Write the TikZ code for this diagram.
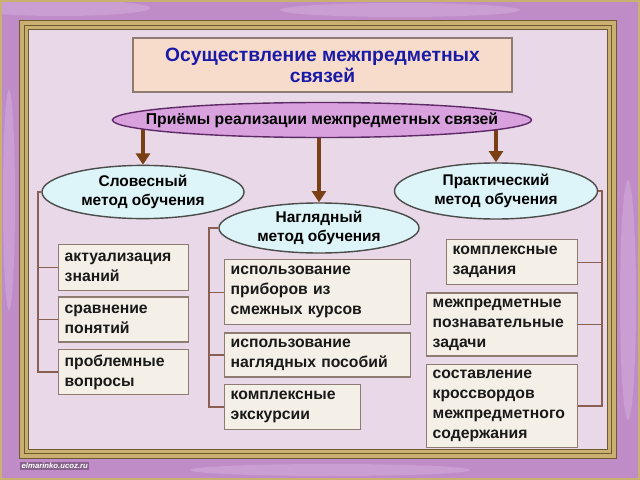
\documentclass[tikz,border=0pt]{standalone}
\usepackage{fontspec}
\setmainfont{Liberation Sans}
\usetikzlibrary{arrows.meta,positioning,shapes.geometric}
\definecolor{panel}{HTML}{E8D8E8}
\definecolor{satin}{HTML}{BF8CC8}
\definecolor{satinlt}{HTML}{E4C8EA}
\definecolor{gold}{HTML}{C9B070}
\definecolor{golddk}{HTML}{6E5A30}
\definecolor{peach}{HTML}{F8DCCB}
\definecolor{orchid}{HTML}{D9A2DF}
\definecolor{plum}{HTML}{5E2A66}
\definecolor{aqua}{HTML}{DDF5F8}
\definecolor{cream}{HTML}{F4F0E8}
\definecolor{edge}{HTML}{8E7C72}
\definecolor{rust}{HTML}{7A4014}
\definecolor{twig}{HTML}{8B5E52}
\definecolor{ink}{HTML}{1A1AA8}
\pgfdeclarelayer{frame}
\pgfdeclarelayer{back}
\pgfsetlayers{frame,back,main}
\tikzset{titlebox/.style={draw=edge,fill=peach,line width=1pt,minimum width=9.475cm,minimum height=1.35cm,align=center,text=ink,font=\fontsize{13.7}{15}\selectfont\bfseries},ways/.style={ellipse,draw=plum,fill=orchid,line width=1pt,inner sep=0pt,minimum width=10.475cm,minimum height=0.875cm,font=\fontsize{11.2}{13}\selectfont\bfseries},method/.style={ellipse,draw=black!70,fill=aqua,line width=1pt,inner sep=0pt,minimum width=5.05cm,minimum height=1.33cm,align=center,font=\fontsize{11}{14}\selectfont\bfseries},item/.style={draw=edge,fill=cream,line width=1pt,anchor=north west,align=left,inner xsep=1.5mm,font=\fontsize{11.2}{14.2}\selectfont\bfseries,text=black!90},feed/.style={-{Triangle[width=10pt,length=8pt]},line width=2.8pt,draw=rust},tie/.style={draw=twig,line width=1pt}}

\begin{document}
\begin{tikzpicture}[x=0.025cm,y=-0.025cm]
\useasboundingbox (0,0) rectangle (640,480);
% frame and panel
\begin{pgfonlayer}{frame}
\fill[satin] (0,0) rectangle (640,480);
\fill[satinlt,opacity=0.3] (60,8) ellipse (90 and 8);\fill[satinlt,opacity=0.3] (400,10) ellipse (120 and 7);
\fill[satinlt,opacity=0.3] (628,300) ellipse (8 and 120);\fill[satinlt,opacity=0.3] (9,200) ellipse (6 and 110);
\fill[satinlt,opacity=0.3] (330,470) ellipse (140 and 6);
\draw[gold,line width=1.5pt] (1,1) rectangle (639,479);
\fill[gold] (19,20) rectangle (616,458);
\draw[golddk,line width=0.6pt] (19,20) rectangle (616,458);
\draw[golddk,line width=0.5pt] (24,25) rectangle (611,453);
\fill[panel] (28,29) rectangle (607,449);
\draw[golddk,line width=0.5pt] (28,29) rectangle (607,449);
\end{pgfonlayer}
\node[fill=satin!70!black,text=white,inner sep=1pt,font=\fontsize{5.5}{6}\selectfont\bfseries\itshape,anchor=west] (mark) at (20,466) {elmarinko.ucoz.ru};
% heads
\node[titlebox] (title) at (322.5,65) {Осуществление межпредметных\\связей};
\node[ways] (ways) at (322,120) {\makebox[0pt]{Приёмы реализации межпредметных связей}};
\node[method] (verbal) at (143,192) {Словесный\\метод обучения};
\node[method,minimum width=5cm,minimum height=1.25cm] (visual) at (319,228) {Наглядный\\метод обучения};
\node[method,minimum width=5.075cm,minimum height=1.4cm] (practical) at (496,191) {Практический\\метод обучения};
\begin{pgfonlayer}{back}
\draw[feed] (ways.center -| verbal.north) -- (verbal.north);
\draw[feed] (ways.center -| visual.north) -- (visual.north);
\draw[feed] (ways.center -| practical.north) -- (practical.north);
\end{pgfonlayer}
% left column
\node[item,text width=2.95cm,minimum height=1.15cm] (b1) at (58,244) {актуализация\\знаний};
\node[item,text width=2.95cm,minimum height=1.125cm,below=0.125cm of b1] (b2) {сравнение\\понятий};
\node[item,text width=2.95cm,minimum height=1.125cm,below=0.15cm of b2] (b3) {проблемные\\вопросы};
% middle column
\node[item,text width=4.35cm,minimum height=1.625cm] (m1) at (224,259) {использование\\приборов из\\смежных курсов};
\node[item,text width=4.35cm,minimum height=1.1cm,below=0.175cm of m1] (m2) {использование\\наглядных пособий};
\node[item,text width=3.1cm,minimum height=1.125cm,below=0.15cm of m2.south west,anchor=north west] (m3) {комплексные\\экскурсии};
% right column
\node[item,text width=2.975cm,minimum height=1.125cm] (r1) at (446,239) {комплексные\\задания};
\node[item,text width=3.475cm,minimum height=1.575cm,below=0.175cm of r1.south east,anchor=north east] (r2) {межпредметные\\познавательные\\задачи};
\node[item,text width=3.475cm,minimum height=2.075cm,below=0.175cm of r2] (r3) {составление\\кроссвордов\\межпредметного\\содержания};
% brackets
\coordinate (lx) at (38,0);\coordinate (mx) at (209,0);\coordinate (rx) at (602,0);
\draw[tie] (verbal.west) -| (lx |- b3.west) -- (b3.west);
\foreach \n in {b1,b2} \draw[tie] (lx |- \n.west) -- (\n.west);
\draw[tie] (visual.west) -| (mx |- m3.west) -- (m3.west);
\foreach \n in {m1,m2} \draw[tie] (mx |- \n.west) -- (\n.west);
\draw[tie] (practical.east) -| (rx |- r3.east) -- (r3.east);
\foreach \n in {r1,r2} \draw[tie] (rx |- \n.east) -- (\n.east);
\end{tikzpicture}
\end{document}
